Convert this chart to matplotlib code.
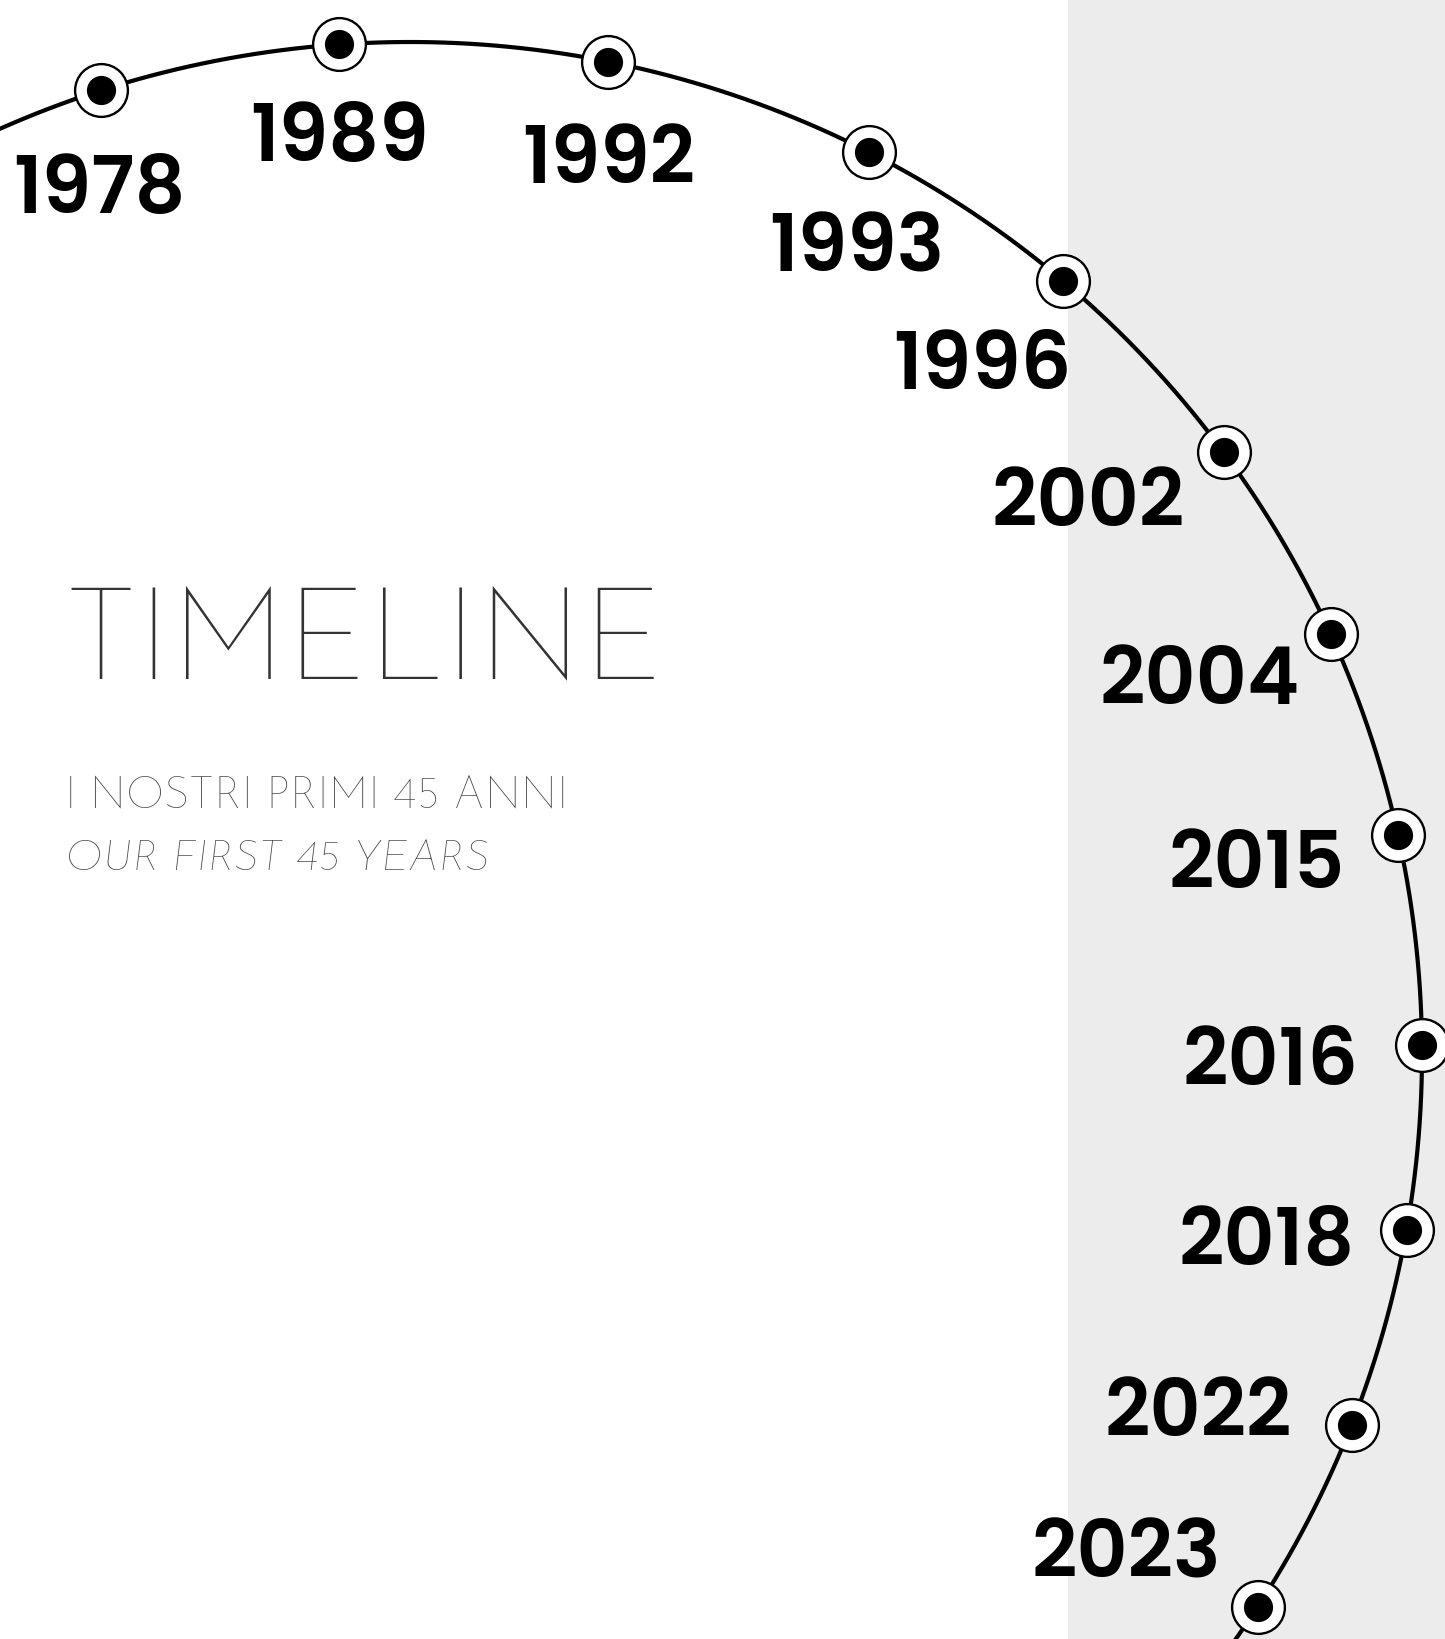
import matplotlib
matplotlib.use("Agg")
import numpy as np
import matplotlib.pyplot as plt

# ---------------- data ----------------
years = ["1978", "1989", "1992", "1993", "1996", "2002",
         "2004", "2015", "2016", "2018", "2022", "2023"]
# position of each year along the arc, degrees clockwise from 12 o'clock
angles_deg = [-17.8, -4.0, 11.3, 27.0, 40.2, 53.5,
              65.5, 77.5, 89.5, 100.0, 111.5, 123.1]

title = "TIMELINE"
subtitle_it = "I NOSTRI PRIMI 45 ANNI"
subtitle_en = "OUR FIRST 45 YEARS"

# ---------------- layout ----------------
W, H = 1445, 1640
CX, CY, R = 410, 1055, 1012          # arc centre and radius (px)
GRAY_X = 1068                         # left edge of grey panel (px)
# label anchor relative to its marker: (centre-x offset, baseline offset) in px
label_offsets = [(-1, 122), (0, 116), (0, 120), (-13, 118), (-81, 107),
                 (-135, 73), (-131, 69), (-141, 52), (-151, 39),
                 (-140, 34), (-153, 10), (-132, -30)]

fig = plt.figure(figsize=(W / 100, H / 100), dpi=100)
fig.patch.set_facecolor("white")
ax = fig.add_axes([0, 0, 1, 1])
ax.set_xlim(0, W)
ax.set_ylim(H, 0)
ax.axis("off")

ax.axvspan(GRAY_X, W, color="#ececec", zorder=0, lw=0)

t = np.radians(np.linspace(-40, 150, 1000))
ax.plot(CX + R * np.sin(t), CY - R * np.cos(t), color="black", lw=3.0, zorder=2)

a = np.radians(angles_deg)
mx = CX + R * np.sin(a)
my = CY - R * np.cos(a)
ax.plot(mx, my, ls="none", marker="o", ms=38.0, mfc="white", mec="black",
        mew=1.7, zorder=3)
ax.plot(mx, my, ls="none", marker="o", ms=21, mfc="black", mec="none",
        zorder=4)

for yr, x, y, (dx, dy) in zip(years, mx, my, label_offsets):
    ax.text(x + dx, y + dy, yr, ha="center", va="baseline", fontsize=57,
            family=["Poppins", "DejaVu Sans"], weight=600, color="black",
            zorder=5)

ax.text(63, 678, title, ha="left", va="baseline", fontsize=93,
        family=["Josefin Sans", "DejaVu Sans"], color="#333333")
ax.text(65, 807, subtitle_it, ha="left", va="baseline", fontsize=32,
        family=["Josefin Sans", "DejaVu Sans"], color="#4a4a4a")
ax.text(65, 870, subtitle_en, ha="left", va="baseline", fontsize=31,
        family=["Josefin Sans", "DejaVu Sans"], style="italic",
        color="#4a4a4a")

fig.savefig("out.png", dpi=100)
